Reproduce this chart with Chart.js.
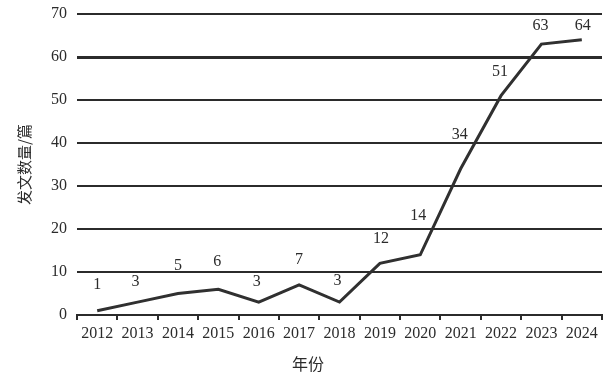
<!DOCTYPE html>
<html>
<head>
<meta charset="utf-8">
<script src="https://cdn.jsdelivr.net/npm/chart.js@4/dist/chart.umd.min.js"></script>
<style>
  html, body { margin: 0; padding: 0; background: #fff; }
  #chart { display: block; }
</style>
</head>
<body>
<canvas id="chart" width="606" height="372"></canvas>
<script>
const YEARS = ["2012", "2013", "2014", "2015", "2016", "2017", "2018",
  "2019", "2020", "2021", "2022", "2023", "2024"];
const PAPERS = [1, 3, 5, 6, 3, 7, 3, 12, 14, 34, 51, 63, 64];
const Y_TICKS = [0, 10, 20, 30, 40, 50, 60, 70];
// how far above each point its number sits (px)
const LABEL_LIFT = [26, 20, 28, 27, 20, 25, 21, 25, 39, 34, 24, 18, 14];
const LABEL_SHIFT = [0, -2, 0, -1, -2, 0, -2, 1, -2, -1, -1, -1, 1];

const INK = "#2b2b2b";
const SERIF = "'Liberation Serif', 'DejaVu Serif', serif";
const CJK = "'Noto Sans CJK SC', 'Noto Sans', sans-serif";

const valueLabels = {
  id: "valueLabels",
  afterDatasetsDraw(chart) {
    const { ctx } = chart;
    const meta = chart.getDatasetMeta(0);
    ctx.save();
    ctx.font = `16px ${SERIF}`;
    ctx.fillStyle = INK;
    ctx.textAlign = "center";
    ctx.textBaseline = "middle";
    meta.data.forEach((pt, i) => {
      ctx.fillText(String(PAPERS[i]), pt.x + LABEL_SHIFT[i], pt.y - LABEL_LIFT[i]);
    });
    // x axis title, centred on the page rather than the plot
    ctx.font = `16px ${CJK}`;
    ctx.fillText("年份", chart.width / 2 + 5, 364);
    ctx.restore();
  },
};

new Chart(document.getElementById("chart"), {
  type: "line",
  data: {
    labels: YEARS,
    datasets: [{
      data: PAPERS,
      borderColor: "#303030",
      borderWidth: 3,
      pointRadius: 0,
      tension: 0,
      fill: false,
    }],
  },
  options: {
    responsive: false,
    animation: false,
    layout: { padding: { top: 14, right: 4, left: 0, bottom: 0 } },
    plugins: {
      legend: { display: false },
      tooltip: { enabled: false },
    },
    scales: {
      x: {
        offset: true,
        grid: { offset: true, drawOnChartArea: false, drawTicks: true, tickLength: 5, color: INK, lineWidth: 2 },
        border: { display: true, color: INK, width: 2 },
        ticks: { color: INK, font: { family: SERIF, size: 16 }, padding: 4, maxRotation: 0, autoSkip: false },
        afterFit: (scale) => { scale.height = 57; },
      },
      y: {
        min: 0,
        max: 70,
        afterBuildTicks: (scale) => { scale.ticks = Y_TICKS.map((v) => ({ value: v })); },
        grid: {
          drawTicks: false,
          color: INK,
          lineWidth: (c) => (c.tick && c.tick.value === 60 ? 3 : 2),
        },
        border: { display: false },
        ticks: { color: INK, font: { family: SERIF, size: 16 }, padding: 10 },
        title: { display: true, text: "发文数量/篇", color: INK, font: { family: CJK, size: 15 }, padding: { top: 15, bottom: 0 } },
        afterFit: (scale) => {
          scale.width = 77;
          scale.paddingTop = 0;
          scale.paddingBottom = 0;
        },
      },
    },
  },
  plugins: [valueLabels],
});
</script>
</body>
</html>
